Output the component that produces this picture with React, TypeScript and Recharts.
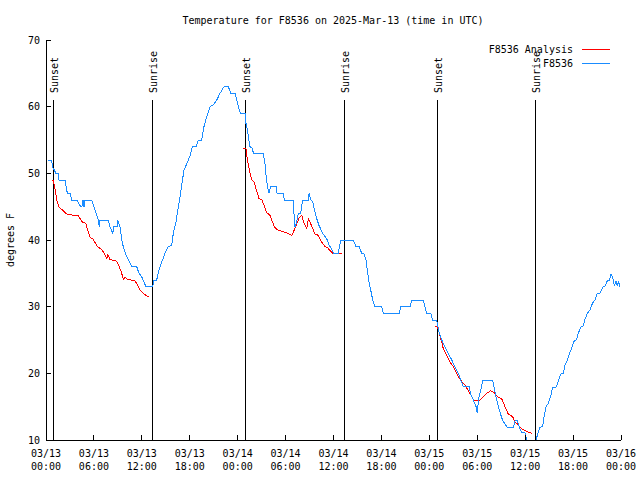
import React from 'react';
import { LineChart, Line, XAxis, YAxis, ReferenceLine } from 'recharts';

const FONT = '"DejaVu Sans Mono", "Liberation Mono", monospace';

const TITLE = 'Temperature for F8536 on 2025-Mar-13 (time in UTC)';
const Y_LABEL = 'degrees F';
const SERIES_NAMES = ['F8536 Analysis', 'F8536'];
const SERIES_COLORS = ['#ff0000', '#1a8cff'];

// x is hours since 03/13 00:00 UTC
const X_TICKS = [0, 6, 12, 18, 24, 30, 36, 42, 48, 54, 60, 66, 72];
const X_TICK_DATES = ['03/13', '03/13', '03/13', '03/13', '03/14', '03/14', '03/14', '03/14', '03/15', '03/15', '03/15', '03/15', '03/16'];
const X_TICK_TIMES = ['00:00', '06:00', '12:00', '18:00', '00:00', '06:00', '12:00', '18:00', '00:00', '06:00', '12:00', '18:00', '00:00'];
const X_MINOR_TICKS = [2, 4, 8, 10, 14, 16, 20, 22, 26, 28, 32, 34, 38, 40, 44, 46, 50, 52, 56, 58, 62, 64, 68, 70];
const Y_TICKS = [10, 20, 30, 40, 50, 60, 70];

const SUN_HOURS = [0.92, 13.3, 24.96, 37.36, 49.0, 61.27];
const SUN_LABELS = ['Sunset', 'Sunrise', 'Sunset', 'Sunrise', 'Sunset', 'Sunrise'];
const SUN_LINE_TOP = 61;

const OBS_HOURS = [
  0.29, 0.71, 0.81, 1.25, 1.5, 1.63, 2.38, 2.67, 3.0, 3.22, 3.84, 4.35, 4.5, 4.63, 4.76, 4.88, 5.72, 6.0, 6.55, 6.67,
  6.76, 7.8, 8.01, 8.35, 8.5, 8.93, 8.95, 9.27, 9.48, 9.68, 10.1, 10.73, 11.36, 11.65, 11.98, 12.52, 13.36, 13.52, 13.86, 14.15,
  14.56, 14.9, 15.31, 15.74, 15.94, 16.28, 16.57, 16.78, 16.99, 17.28, 17.62, 18.03, 18.32, 18.78, 19.07, 19.5, 19.78, 20.12, 20.54, 20.95,
  21.38, 21.79, 22.29, 22.83, 23.13, 23.67, 23.88, 24.17, 24.38, 24.92, 25.04, 25.21, 25.54, 25.88, 25.95, 27.2, 27.42, 27.55, 27.71, 27.92,
  28.14, 28.89, 28.93, 29.71, 29.84, 30.97, 31.05, 31.18, 31.39, 31.59, 31.89, 32.14, 32.85, 32.94, 33.15, 33.4, 33.68, 33.9, 34.18, 34.65,
  35.15, 35.47, 35.77, 35.98, 36.6, 36.9, 38.48, 38.82, 39.23, 39.53, 39.82, 40.07, 40.23, 40.48, 40.66, 40.91, 41.2, 42.04, 42.24, 44.24,
  44.42, 45.58, 45.79, 47.25, 47.46, 47.67, 48.17, 48.42, 48.92, 49.0, 49.25, 49.55, 49.96, 50.38, 50.8, 51.21, 51.63, 51.93, 52.25, 53.0,
  53.18, 53.51, 53.85, 54.01, 54.14, 54.44, 54.69, 55.94, 56.1, 56.35, 56.64, 56.94, 57.19, 57.77, 58.52, 58.73, 59.02, 59.27, 59.57, 59.98,
  60.19, 60.61, 61.11, 61.36, 61.64, 61.86, 62.19, 62.36, 62.61, 62.9, 63.2, 63.45, 63.86, 64.15, 64.45, 64.78, 64.99, 65.28, 65.53, 65.83,
  66.12, 66.45, 66.65, 66.95, 67.28, 67.49, 67.78, 68.12, 68.46, 68.75, 69.03, 69.37, 69.71, 70.0, 70.29, 70.54, 70.74, 70.96, 71.16, 71.37,
  71.53, 71.71, 71.87,
];
const OBS_TEMPS = [
  52, 52, 51, 50, 50, 49, 49, 47, 47, 46, 46, 45, 45, 46, 45, 46, 46, 45, 43, 42,
  43, 43, 42, 41, 42, 42, 43, 42, 40, 39, 37.5, 36, 36, 35, 34.5, 33, 33, 34, 34, 35.5,
  36.9, 38, 39, 39.2, 41, 42.7, 45, 46.5, 48.2, 50.5, 51.4, 52.6, 54, 54, 55, 55, 57, 58.5, 60, 60.3,
  61, 62, 63, 63, 62, 62, 61, 59.6, 59, 59, 57.5, 56.5, 54, 53.7, 53, 53, 51.5, 49.7, 48.2, 47,
  48, 48, 47, 47, 46, 46, 44, 42, 42.7, 44, 44, 46, 46, 47, 46, 45.7, 44.2, 43.2, 42.2, 41,
  40.2, 39.2, 38.7, 38, 38, 40, 40, 39, 39, 38, 37.9, 37, 35.5, 33.5, 32.5, 31, 30, 30, 29, 29,
  30, 30, 31, 31, 30, 29, 29, 28, 28, 27.4, 26, 25, 24, 23, 22, 21, 20, 19, 18, 18,
  16.8, 16, 15, 14, 16, 17.5, 18.9, 18.9, 18, 16.5, 15, 13.8, 12.9, 11.9, 11.9, 12.9, 12.9, 11.9, 11.1, 11.1,
  10, 9, 9, 10, 11.2, 11.9, 12.1, 13.5, 15, 15.5, 16.6, 17.9, 17.9, 18.8, 19.9, 20, 21.2, 22, 22.9, 23.8,
  24.8, 25.1, 26, 26.9, 27.1, 28.1, 29, 29.5, 30.6, 31, 32, 32, 32.9, 33.1, 33.9, 33.9, 34.9, 34.4, 33.2, 33.8,
  33.2, 33.7, 33,
];

// null temps mark the gaps between analysis runs
const ANL_HOURS = [
  0.71, 0.91, 1.13, 1.34, 1.63, 1.97, 2.59, 3.42, 4.04, 4.26, 4.55, 4.97, 5.22, 5.51, 5.92, 6.42, 6.85, 7.26, 7.6, 7.76,
  8.01, 8.85, 9.18, 9.48, 9.68, 9.89, 10.18, 11.14, 11.48, 11.77, 12.18, 12.61, 12.94,
  18,
  24.71, 25.04, 25.21, 25.46, 25.76, 26.05, 26.3, 26.67, 27.01, 27.3, 27.64, 28.05, 28.26, 28.59, 28.89, 29.51, 30.14, 30.77, 31.09, 31.39,
  31.72, 32.02, 32.31, 32.64, 32.85, 33.06, 33.4, 33.68, 34.1, 34.52, 34.94, 35.22, 35.56, 35.9, 37.03,
  43,
  48.71, 49.0, 49.25, 49.55, 49.75, 50.18, 50.59, 51.0, 51.43, 51.84, 52.47, 53.09, 53.51, 54.35, 55.18, 55.68, 56.22, 56.51, 57.06, 57.47,
  57.88, 58.43, 58.73, 59.02, 59.57, 59.98, 60.39, 60.85,
];
const ANL_TEMPS = [
  48.9, 48.9, 47.7, 46, 44.9, 44.6, 43.9, 43.7, 43.7, 43.2, 42.7, 42.5, 41.5, 40.4, 40.1, 39, 38.7, 38.1, 37.2, 37.8,
  37.1, 36.8, 36, 35, 34.1, 34.4, 34.1, 33.9, 33.2, 32.5, 32, 31.6, 31.6,
  null,
  53.7, 53.7, 52, 50.5, 49, 48.7, 47.7, 46.2, 46.1, 45.2, 44.1, 43.7, 43, 42, 41.6, 41.3, 41.1, 40.7, 41.5, 42.4,
  43.4, 43.7, 42.5, 41.7, 43.2, 42.7, 41.7, 40.9, 40.7, 39.7, 39, 38.9, 38.4, 38, 38,
  null,
  27.1, 27.1, 26, 24.7, 23.7, 22.7, 21.7, 21, 20, 19.1, 18.2, 17, 16, 16, 17, 17.4, 17, 16.5, 16.2, 15,
  13.9, 13.5, 12.7, 12.4, 11.7, 11.4, 11.2, 11,
];

const obsData = OBS_HOURS.map((h, i) => ({ h, t: OBS_TEMPS[i] }));
const anlData = ANL_HOURS.map((h, i) => ({ h, t: ANL_TEMPS[i] }));

const EmptyTick = () => <g />;

function XTick({ x, y, payload }: any) {
  const i = X_TICKS.indexOf(payload.value);
  return (
    <text x={x} textAnchor="middle" fontFamily={FONT} fontSize={10} fill="#000">
      <tspan x={x} y={y + 17}>{X_TICK_DATES[i]}</tspan>
      <tspan x={x} y={y + 30}>{X_TICK_TIMES[i]}</tspan>
    </text>
  );
}

function SunLabel({ viewBox, text }: any) {
  if (!viewBox) return null;
  const x = viewBox.x + 5;
  const y = viewBox.y - 7;
  return (
    <text x={x} y={y} transform={`rotate(-90 ${x} ${y})`} fontFamily={FONT} fontSize={10} fill="#000">
      {text}
    </text>
  );
}

export default function App() {
  return (
    <div style={{ position: 'absolute', left: 0, top: 0, width: 640, height: 480, background: '#fff', shapeRendering: 'crispEdges' }}>
      <LineChart width={640} height={480} margin={{ top: 40, right: 19, bottom: 0, left: 0 }}>
        <XAxis
          xAxisId="main"
          dataKey="h"
          type="number"
          domain={[0, 72]}
          ticks={X_TICKS}
          interval={0}
          allowDataOverflow
          height={40}
          tickSize={-5}
          tickMargin={5}
          stroke="#000"
          tick={<XTick />}
        />
        <XAxis xAxisId="bmin" type="number" domain={[0, 72]} ticks={X_MINOR_TICKS} interval={0} allowDataOverflow
          mirror height={0} tickSize={3} axisLine={false} stroke="#000" tick={EmptyTick} />
        <XAxis xAxisId="top" orientation="top" type="number" domain={[0, 72]} ticks={X_TICKS} interval={0} allowDataOverflow
          mirror height={0} tickSize={5} stroke="#000" tick={EmptyTick} />
        <XAxis xAxisId="tmin" orientation="top" type="number" domain={[0, 72]} ticks={X_MINOR_TICKS} interval={0} allowDataOverflow
          mirror height={0} tickSize={3} axisLine={false} stroke="#000" tick={EmptyTick} />
        <YAxis
          yAxisId="left"
          type="number"
          domain={[10, 70]}
          ticks={Y_TICKS}
          interval={0}
          allowDataOverflow
          width={46}
          tickSize={-5}
          tickMargin={11}
          stroke="#000"
          tick={{ fill: '#000', fontSize: 10, fontFamily: FONT }}
        />
        <YAxis yAxisId="right" orientation="right" type="number" domain={[10, 70]} ticks={Y_TICKS} interval={0} allowDataOverflow
          mirror width={0} tickSize={5} stroke="#000" tick={EmptyTick} />

        {SUN_HOURS.map((h, i) => (
          <ReferenceLine
            key={i}
            xAxisId="main"
            yAxisId="left"
            segment={[{ x: h, y: 10 }, { x: h, y: SUN_LINE_TOP }]}
            stroke="#000"
            ifOverflow="visible"
            label={<SunLabel text={SUN_LABELS[i]} />}
          />
        ))}

        <Line
          data={anlData}
          dataKey="t"
          name={SERIES_NAMES[0]}
          xAxisId="main"
          yAxisId="left"
          type="linear"
          stroke={SERIES_COLORS[0]}
          strokeWidth={1}
          dot={false}
          activeDot={false}
          isAnimationActive={false}
        />
        <Line
          data={obsData}
          dataKey="t"
          name={SERIES_NAMES[1]}
          xAxisId="main"
          yAxisId="left"
          type="linear"
          stroke={SERIES_COLORS[1]}
          strokeWidth={1}
          dot={false}
          activeDot={false}
          isAnimationActive={false}
        />
      </LineChart>

      <svg width={640} height={480} style={{ position: 'absolute', left: 0, top: 0, pointerEvents: 'none' }}>
        <text x={333} y={24} textAnchor="middle" fontFamily={FONT} fontSize={10} fill="#000">{TITLE}</text>
        <text x={14} y={240} textAnchor="middle" transform="rotate(-90 14 240)" fontFamily={FONT} fontSize={10} fill="#000">
          {Y_LABEL}
        </text>
        {SERIES_NAMES.map((name, i) => (
          <g key={name}>
            <text x={573} y={53 + i * 14} textAnchor="end" fontFamily={FONT} fontSize={10} fill="#000">{name}</text>
            <rect x={582} y={49 + i * 14} width={28} height={1} fill={SERIES_COLORS[i]} />
          </g>
        ))}
      </svg>
    </div>
  );
}
